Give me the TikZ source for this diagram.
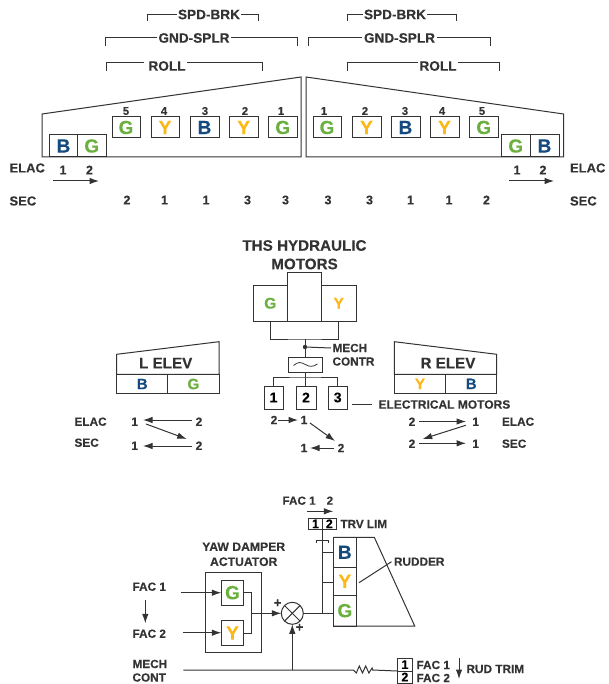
\documentclass[tikz,border=0pt]{standalone}
\usepackage{fontspec}
\setmainfont{Liberation Sans}[BoldFeatures={FakeBold=0.25}]
\usetikzlibrary{arrows.meta,calc}
\definecolor{ink}{HTML}{333333}
\definecolor{cG}{HTML}{6BB03E}
\definecolor{cY}{HTML}{FBB817}
\definecolor{cB}{HTML}{154A7E}
\newcommand{\bx}[7][19]{%
 \pgfmathsetmacro{\mx}{(#3+#5)/2}\pgfmathsetmacro{\my}{(#4+#6)/2}%
 \pgfmathsetmacro{\wx}{abs(#5-#3)}\pgfmathsetmacro{\wy}{abs(#6-#4)}%
 \node[boxn,minimum width=\wx pt,minimum height=\wy pt,font=\fontsize{#1}{#1}\selectfont\bfseries] (#2) at (\mx,\my) {#7};}
\newcommand{\lab}[5][12.5]{\node[lbl,font=\fontsize{#1}{#1}\selectfont\bfseries] (#2) at (#3,#4) {#5};}
\newcommand{\labw}[5][12.5]{\node[lbl,anchor=west,xshift=-1.5pt,font=\fontsize{#1}{#1}\selectfont\bfseries] (#2) at (#3,#4) {#5};}
\newcommand{\arr}[5]{\coordinate (#1s) at (#2,#3);\coordinate (#1e) at (#4,#5);\draw[wire,tip] (#1s) -- (#1e);}
\newcommand{\plainln}[5]{\coordinate (#1s) at (#2,#3);\coordinate (#1e) at (#4,#5);\draw[wire] (#1s) -- (#1e);}
\tikzset{
 wire/.style={draw=ink,line width=1pt},
 tip/.style={-{Latex[length=9.5pt,width=6.5pt]}},
 boxn/.style={draw=ink,line width=1pt,inner sep=0pt,outer sep=0pt,fill=none},
 lbl/.style={inner sep=0pt,outer sep=1.5pt,text=ink},
}
\begin{document}
\begin{tikzpicture}[x=1pt,y=-1pt]
\useasboundingbox (0,0) rectangle (608,684);
% wings
\draw[wire] (42,114) -- (42,157) -- (301,157) -- (301,77) -- cycle;
\draw[wire] (306,77) -- (306,157) -- (563.5,157) -- (563.5,114) -- cycle;
% left wing boxes
\bx{lb1}{49.5}{135}{77.5}{157}{\textcolor{cB}{B}}
\bx{lb2}{77.5}{135}{106}{157}{\textcolor{cG}{G}}
\bx{ls5}{112}{117}{140}{138}{\textcolor{cG}{G}}
\bx{ls4}{151}{117}{179}{138}{\textcolor{cY}{Y}}
\bx{ls3}{190}{117}{219}{138}{\textcolor{cB}{B}}
\bx{ls2}{229.5}{117}{258}{138}{\textcolor{cY}{Y}}
\bx{ls1}{268.5}{117}{297}{138}{\textcolor{cG}{G}}
\lab[11.3]{ln5}{126}{111}{5}\lab[11.3]{ln4}{164}{111}{4}\lab[11.3]{ln3}{205}{111}{3}\lab[11.3]{ln2}{245}{111}{2}\lab[11.3]{ln1}{281}{111}{1}
% right wing boxes
\bx{rs1}{313}{117}{341}{138}{\textcolor{cG}{G}}
\bx{rs2}{352}{117}{381}{138}{\textcolor{cY}{Y}}
\bx{rs3}{391}{117}{420}{138}{\textcolor{cB}{B}}
\bx{rs4}{430}{117}{459}{138}{\textcolor{cY}{Y}}
\bx{rs5}{469.5}{117}{498}{138}{\textcolor{cG}{G}}
\bx{rb1}{501.5}{135}{530}{157}{\textcolor{cG}{G}}
\bx{rb2}{530}{135}{559}{157}{\textcolor{cB}{B}}
\lab[11.3]{rn1}{324}{111}{1}\lab[11.3]{rn2}{365}{111}{2}\lab[11.3]{rn3}{405}{111}{3}\lab[11.3]{rn4}{442}{111}{4}\lab[11.3]{rn5}{482}{111}{5}
% brackets
\lab[13.6]{lspd}{209}{14.5}{SPD-BRK}
\lab[13.6]{lgnd}{194}{38}{GND-SPLR}
\lab[13.6]{lroll}{167}{66}{ROLL}
\lab[13.6]{rspd}{395}{14.5}{SPD-BRK}
\lab[13.6]{rgnd}{399.5}{38}{GND-SPLR}
\lab[13.6]{rroll}{438}{66}{ROLL}
\coordinate (a1) at (147,21);\coordinate (a2) at (258,21);
\draw[wire] (a1) |- (lspd.west); \draw[wire] (a2) |- (lspd.east);
\coordinate (a3) at (105,46);\coordinate (a4) at (297,46);
\draw[wire] (a3) |- (lgnd.west); \draw[wire] (a4) |- (lgnd.east);
\coordinate (a5) at (106,71);\coordinate (a6) at (262,71);\coordinate (ay) at (0,63);
\draw[wire] (a5) -- (a5|-ay) -- ($(lroll.west|-ay)+(-3,0)$);
\draw[wire] (a6) -- (a6|-ay) -- (lroll.east|-ay);
\coordinate (b1) at (347,21);\coordinate (b2) at (456,21);
\draw[wire] (b1) |- (rspd.west); \draw[wire] (b2) |- (rspd.east);
\coordinate (b3) at (308.5,46);\coordinate (b4) at (490,46);
\draw[wire] (b3) |- (rgnd.west); \draw[wire] (b4) |- (rgnd.east);
\coordinate (b5) at (347,71);\coordinate (b6) at (499,71);
\draw[wire] (b5) -- (b5|-ay) -- (rroll.west|-ay);
\draw[wire] (b6) -- (b6|-ay) -- (rroll.east|-ay);
% ELAC / SEC
\labw[13]{el}{9.5}{168}{ELAC}\labw[13]{sl}{9.5}{201}{SEC}
\labw[13]{er}{570}{168}{ELAC}\labw[13]{sr}{570}{201}{SEC}
\lab{e1}{63}{170}{1}\lab{e2}{89.5}{170}{2}\arr{ea}{53}{181}{99}{181}
\lab{e3}{517}{170}{1}\lab{e4}{543}{170}{2}\arr{eb}{509}{181}{554}{181}
\lab{s1}{127}{200}{2}\lab{s2}{164.5}{200}{1}\lab{s3}{206}{200}{1}\lab{s4}{247.5}{200}{3}\lab{s5}{285.5}{200}{3}
\lab{s6}{328}{200}{3}\lab{s7}{369.5}{200}{3}\lab{s8}{410.5}{200}{1}\lab{s9}{449}{200}{1}\lab{s10}{486.5}{200}{2}
% THS
\lab[15.2]{ths1}{304.5}{245.5}{THS HYDRAULIC}
\lab[15.2]{ths2}{304.5}{264}{MOTORS}
\bx[15.5]{tg}{253}{285.5}{287.5}{321}{\textcolor{cG}{G}}
\bx[15]{tc}{287.5}{272.5}{321.5}{321}{}
\bx[15.5]{ty}{321.5}{285.5}{356}{321}{\textcolor{cY}{Y}}
\bx{tilde}{288}{357}{322.7}{372}{}
\draw[ink,line width=0.8pt] (293.5,365.5) .. controls (298,361.5) and (301,362) .. (305.3,364.5) .. controls (309.5,367) and (313,367) .. (317.5,364);
\bx[14]{m1}{264}{386}{283}{409}{1}
\bx[14]{m2}{296}{386}{316}{409}{2}
\bx[14]{m3}{328}{386}{347.3}{409}{3}
\coordinate (tj) at (305,339);\coordinate (tdot) at (305,347);\coordinate (mj) at (305,377);
\draw[wire] (tg.south) |- (tj) -| (ty.south);
\draw[wire] (tj) -- (tj|-tilde.north);
\fill[ink] (tdot) circle (2.2pt);
\labw[11.8]{mc1}{332.5}{348}{MECH}
\labw[11.8]{mc2}{332.5}{361.5}{CONTR}
\draw[wire] (tdot) -- (mc1.west);
\draw[wire] (tj|-tilde.south) -- (mj);
\draw[wire] (m1.north) |- (mj) -| (m3.north);
\draw[wire] (mj) -- (mj|-m2.north);
\labw[12]{em}{378.5}{404.5}{ELECTRICAL MOTORS}
\coordinate (emc) at (351.5,404.5);
\draw[wire] (emc) -- ($(em.west)+(-5,0)$);
\lab[12]{c2}{274}{420}{2}\lab[12]{c1}{304}{420}{1}\lab[12]{c3}{341}{448}{2}\lab[12]{c4}{304}{448}{1}
\arr{ca}{278}{420}{298}{420}
\arr{cb}{310}{423}{335}{441}
\arr{cc}{334}{448}{310}{448}
% L ELEV
\draw[wire] (116.7,354.3) -- (219,341.7) -- (219,374.3) -- (116.7,374.3) -- cycle;
\lab[15.2]{lel}{165.7}{363}{L ELEV}
\bx[15]{lea}{116.7}{374.3}{167.7}{393.7}{\textcolor{cB}{B}}
\bx[15]{leb}{167.7}{374.3}{219}{393.7}{\textcolor{cG}{G}}
\labw[11.8]{le}{74.5}{421.7}{ELAC}\labw[11.8]{ls}{74.5}{442.7}{SEC}
\lab[12]{l1}{134.7}{421.7}{1}\lab[12]{l2}{199}{421.7}{2}\lab[12]{l3}{134.7}{445.7}{1}\lab[12]{l4}{199}{445.7}{2}
\arr{la}{192}{420}{143}{420}
\arr{lb}{146}{424}{186.7}{439}
\arr{lc}{192}{446}{143}{446}
% R ELEV
\draw[wire] (394.3,341.7) -- (496.7,354.3) -- (496.7,374.3) -- (394.3,374.3) -- cycle;
\lab[15.2]{rel}{448}{363}{R ELEV}
\bx[15]{rea}{394.3}{374.3}{445.7}{393.5}{\textcolor{cY}{Y}}
\bx[15]{reb}{445.7}{374.3}{496.7}{393.5}{\textcolor{cB}{B}}
\labw[11.8]{re}{502}{421.7}{ELAC}\labw[11.8]{rsc}{502}{443.7}{SEC}
\lab[12]{r1}{412}{421.7}{2}\lab[12]{r2}{475.7}{421.7}{1}\lab[12]{r3}{412}{443.7}{2}\lab[12]{r4}{475.7}{443.7}{1}
\arr{ra}{419}{421.5}{466}{421.5}
\arr{rb}{465.7}{425.3}{422.7}{439}
\arr{rc}{419}{443.3}{466}{443.3}
% Rudder
\labw[11.7]{fa}{282.5}{500.7}{FAC 1\hspace{11pt}2}
\arr{fb}{307.3}{511.3}{333.3}{511.3}
\bx[12.5]{tv1}{308.7}{518.3}{322.3}{529.3}{1}
\bx[12.5]{tv2}{322.3}{518.3}{336.3}{529.3}{2}
\labw[11.7]{tl}{340.5}{524}{TRV LIM}
\draw[wire] (333.3,537.3) -- (374.3,537.3) -- (414.7,626) -- (333.3,626);
\bx{ub}{333.3}{537.3}{356.3}{567.3}{\textcolor{cB}{B}}
\bx{uy}{333.3}{567.3}{356.3}{595.3}{\textcolor{cY}{Y}}
\bx{ug}{333.3}{595.3}{356.3}{626}{\textcolor{cG}{G}}
\coordinate (tr) at (322.3,613.3);\coordinate (c1) at (316.5,543.3);\coordinate (c2p) at (328.3,543.3);\coordinate (cy) at (0,540);\coordinate (by1) at (0,552.7);\coordinate (by2) at (0,582.7);
\draw[wire] (tv1.south east) -- (tr);
\draw[wire] (c1) -- (c1|-cy) -- (c2p|-cy) -- (c2p);
\draw[wire] (tr|-by1) -- (ub.west|-by1);
\draw[wire] (tr|-by2) -- (uy.west|-by2);
\node[boxn,circle,minimum size=22pt] (sum) at (292.3,613.3) {};
\draw[wire] (sum.north west) -- (sum.south east);
\draw[wire] (sum.north east) -- (sum.south west);
\draw[wire] (sum.east) -- (tr) -- (ug.west|-tr);
\labw[11.8]{rudl}{394}{561.7}{RUDDER}
\plainln{ru}{359}{582.7}{391.5}{561.7}
% Yaw damper
\lab[12.2]{y1}{243.7}{546.7}{YAW DAMPER}
\lab[12.2]{y2}{243.7}{561.7}{ACTUATOR}
\bx{yb}{205.3}{572.7}{261.7}{652}{}
\bx{yg}{221.3}{580.3}{243.7}{605}{\textcolor{cG}{G}}
\bx{yy}{221.3}{620.7}{243.7}{645.3}{\textcolor{cY}{Y}}
\labw[11.8]{f1}{132.5}{586.7}{FAC 1}
\labw[11.8]{f2}{132.5}{633.7}{FAC 2}
\coordinate (fi1) at (181.3,592.7);\coordinate (fi2) at (182.7,632.7);
\draw[wire,tip] (fi1) -- (yg.west|-fi1);
\draw[wire,tip] (fi2) -- (yy.west|-fi2);
\arr{fd}{145.3}{600}{145.3}{623.3}
\coordinate (yr) at (251.7,613.3);
\draw[wire] (yg.east) -| (yr);
\draw[wire] (yy.east) -| (yr);
\draw[wire,tip] (yr) -- (sum.west);
\lab[13]{p1}{277.7}{603.3}{+}
\lab[13]{p2}{299.5}{627.7}{+}
% Mech cont / trim
\labw[11.8]{me}{132.5}{664}{MECH}
\labw[11.8]{co}{132.5}{677.5}{CONT}
\coordinate (ms) at (183.3,670);\coordinate (mj2) at (292.3,670);\coordinate (rzs) at (353.3,670);\coordinate (rze) at (372.7,670);
\draw[wire,tip] (mj2) -- (sum.south);
\bx[12.5]{t1}{397.3}{658.3}{412.5}{671}{1}
\bx[12.5]{t2}{397.3}{671}{412.5}{683}{2}
\draw[wire] (ms) -- (rzs) -- ++(3,3) -- ++(3,-7) -- ++(3.2,7) -- ++(3.2,-7) -- ++(3.2,7) -- ++(3.2,-5) -- (rze) -- (t1.south west);
\labw[11.8]{t3}{416.5}{665}{FAC 1}
\labw[11.8]{t4}{416.5}{678}{FAC 2}
\arr{td}{459}{658}{459}{679}
\labw[11.8]{t5}{466.5}{669}{RUD TRIM}
\end{tikzpicture}
\end{document}
